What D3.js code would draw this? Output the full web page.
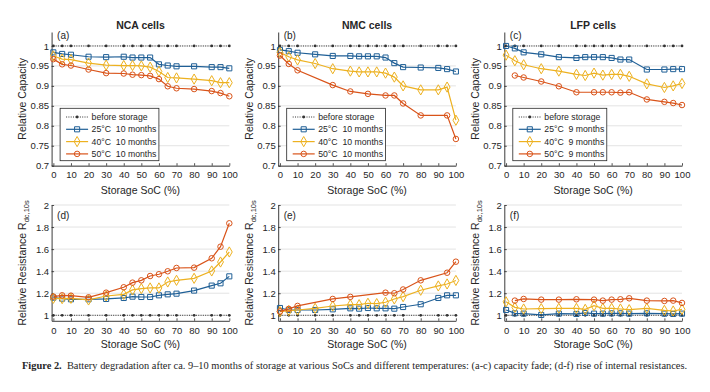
<!DOCTYPE html>
<html><head><meta charset="utf-8">
<script src="https://cdn.jsdelivr.net/npm/d3@7"></script>
<style>
body{margin:0;background:#fff;}
svg{display:block;}
text{font-family:"Liberation Sans",Arial,Helvetica,sans-serif;fill:#262626;}
</style></head>
<body>
<svg id="chart" width="710" height="392"></svg>
<script>
// ---------- data ----------
const soc = [0,5,10,20,30,40,45,50,55,60,65,70,80,90,95,100];
const socNMC50 = [0,5,10,30,40,50,60,65,70,80,95,100];
const socLFP50 = [5,10,20,30,40,50,55,60,65,70,80,90,95,100];
const socNMC50R = [0,5,10,30,40,60,65,70,80,95,100];

const cellTypes = ["NCA cells","NMC cells","LFP cells"];
const panelLabels = ["(a)","(b)","(c)","(d)","(e)","(f)"];
const seriesNames = ["25°C","40°C","50°C"];
const durations = ["10 months","10 months","9 months"];
const beforeName = "before storage";

const capTicks = [0.7,0.75,0.8,0.85,0.9,0.95,1];
const capTickLabels = ["0.7","0.75","0.8","0.85","0.9","0.95","1"];
const resTicks = [1,1.2,1.4,1.6,1.8,2];
const resTickLabels = ["1","1.2","1.4","1.6","1.8","2"];
const xTicks = [0,10,20,30,40,50,60,70,80,90,100];

// capacity
const nca25Cap = [0.984,0.980,0.978,0.973,0.972,0.973,0.971,0.971,0.971,0.954,0.951,0.949,0.949,0.947,0.947,0.944];
const nca40Cap = [0.975,0.967,0.966,0.957,0.952,0.951,0.951,0.950,0.947,0.936,0.921,0.920,0.917,0.913,0.908,0.908];
const nca50Cap = [0.967,0.954,0.951,0.941,0.932,0.931,0.928,0.927,0.925,0.917,0.899,0.894,0.892,0.887,0.882,0.874];
const nmc25Cap = [0.990,0.987,0.983,0.979,0.975,0.975,0.974,0.974,0.974,0.971,0.957,0.947,0.946,0.945,0.942,0.936];
const nmc40Cap = [0.984,0.973,0.965,0.956,0.943,0.937,0.935,0.935,0.935,0.932,0.922,0.900,0.890,0.890,0.897,0.814];
const nmc50Cap = [0.976,0.955,0.939,0.902,0.886,0.880,0.876,0.876,0.856,0.826,0.826,0.767];
const lfp25Cap = [1.000,0.994,0.984,0.979,0.972,0.970,0.972,0.972,0.972,0.970,0.966,0.966,0.941,0.941,0.942,0.942];
const lfp40Cap = [0.977,0.963,0.953,0.943,0.937,0.929,0.926,0.932,0.927,0.929,0.929,0.924,0.905,0.896,0.900,0.906];
const lfp50Cap = [0.926,0.921,0.911,0.899,0.884,0.884,0.884,0.884,0.883,0.884,0.866,0.860,0.857,0.852];
// resistance
const nca25Res = [1.160,1.151,1.145,1.145,1.148,1.157,1.169,1.166,1.166,1.181,1.190,1.196,1.224,1.269,1.290,1.353];
const nca40Res = [1.154,1.151,1.154,1.139,1.175,1.190,1.230,1.242,1.248,1.248,1.302,1.317,1.335,1.402,1.483,1.574];
const nca50Res = [1.169,1.181,1.178,1.163,1.205,1.254,1.296,1.317,1.356,1.372,1.399,1.429,1.432,1.517,1.622,1.834];
const nmc25Res = [1.066,1.048,1.048,1.048,1.054,1.063,1.060,1.066,1.063,1.063,1.060,1.075,1.100,1.157,1.181,1.181];
const nmc40Res = [1.033,1.042,1.048,1.063,1.084,1.096,1.096,1.109,1.106,1.118,1.148,1.169,1.227,1.266,1.284,1.316];
const nmc50Res = [1.035,1.058,1.085,1.148,1.167,1.205,1.200,1.234,1.317,1.386,1.486];
const lfp25Res = [1.048,1.018,1.015,1.003,1.015,1.012,1.021,1.015,1.015,1.018,1.018,1.015,1.018,1.015,1.012,1.015];
const lfp40Res = [1.122,1.072,1.057,1.060,1.063,1.063,1.054,1.087,1.063,1.063,1.057,1.051,1.063,1.045,1.039,1.054];
const lfp50Res = [1.133,1.148,1.142,1.142,1.145,1.142,1.133,1.142,1.145,1.154,1.133,1.130,1.133,1.112];
const beforeVal = soc.map(()=>1);

const caption1 = "Figure 2.";
const caption2 = "Battery degradation after ca. 9\u201310 months of storage at various SoCs and different temperatures: (a-c) capacity fade; (d-f) rise of internal resistances.";

// ---------- styles ----------
const colors = ["#1f5f96","#edb120","#d95319"];
const shapes = [d3.symbolSquare, d3.symbolDiamond, d3.symbolCircle];
const shapeSizes = [26, 30, 24];

const svg = d3.select("#chart");
const lefts = [51.6, 278.2, 504.3];
const plotW = 177.7;

const capData = [
  [[soc,nca25Cap],[soc,nca40Cap],[soc,nca50Cap]],
  [[soc,nmc25Cap],[soc,nmc40Cap],[socNMC50,nmc50Cap]],
  [[soc,lfp25Cap],[soc,lfp40Cap],[socLFP50,lfp50Cap]]
];
const resData = [
  [[soc,nca25Res],[soc,nca40Res],[soc,nca50Res]],
  [[soc,nmc25Res],[soc,nmc40Res],[socNMC50R,nmc50Res]],
  [[soc,lfp25Res],[soc,lfp40Res],[socLFP50,lfp50Res]]
];

function symbolPath(i){ return d3.symbol().type(shapes[i]).size(shapeSizes[i])(); }

function drawPanel(col,row){
  const left = lefts[col];
  const x = d3.scaleLinear().domain([-1,100]).range([left,left+plotW]);
  const top = row===0;
  const y = top ? d3.scaleLinear().domain([0.7,1.035]).range([165.7,32])
                : d3.scaleLinear().domain([0.95,2]).range([320.8,205]);
  const ticks = top ? capTicks : resTicks;
  const tlabels = top ? capTickLabels : resTickLabels;
  const g = svg.append("g");
  // grid
  g.selectAll("line.grid").data(ticks).join("line")
    .attr("x1",x(-1)).attr("x2",x(100)).attr("y1",d=>y(d)).attr("y2",d=>y(d))
    .attr("stroke","#e3e3e3").attr("stroke-width",1);
  // axes
  const xa = g.append("g").attr("transform",`translate(0,${y.range()[0]})`)
    .call(d3.axisBottom(x).tickValues(xTicks).tickSizeInner(-2.5).tickSizeOuter(0).tickPadding(6));
  const ya = g.append("g").attr("transform",`translate(${left},0)`)
    .call(d3.axisLeft(y).tickValues(ticks).tickFormat((d,i)=>tlabels[i]).tickSizeInner(-2.5).tickSizeOuter(0).tickPadding(2.5));
  [xa,ya].forEach(a=>{
    a.select(".domain").attr("stroke","#262626").attr("stroke-width",0.9);
    a.selectAll(".tick line").attr("stroke","#262626").attr("stroke-width",0.8);
    a.selectAll(".tick text").attr("font-size","9.5px").attr("fill","#262626")
      .attr("font-family","'Liberation Sans',Arial,sans-serif");
  });
  // axis titles
  g.append("text").attr("x",x(-1)+plotW/2).attr("y",top?194:348)
    .attr("text-anchor","middle").attr("font-size","10.5px").text("Storage SoC (%)");
  const yc = (y.range()[0]+y.range()[1])/2;
  const yt = g.append("text").attr("transform",`translate(${left-25.7},${yc}) rotate(-90)`)
    .attr("text-anchor","middle").attr("font-size","10.5px");
  if(top){ yt.text("Relative Capacity"); }
  else {
    yt.append("tspan").text("Relative Resistance R");
    yt.append("tspan").attr("font-size","7.5px").attr("dy","3").text("dc,10s");
  }
  // panel label
  g.append("text").attr("x",left+5.5).attr("y",top?39:218.5).attr("font-size","10px")
    .text(panelLabels[row*3+col]);
  if(top){
    g.append("text").attr("x",x(-1)+plotW/2).attr("y",29).attr("text-anchor","middle")
      .attr("font-size","10.5px").attr("font-weight","bold").text(cellTypes[col]);
  }
  // before storage line
  const line = d3.line().x(d=>x(d[0])).y(d=>y(d[1]));
  const bpts = soc.map((s,i)=>[s,beforeVal[i]]);
  g.append("path").attr("d",line(bpts)).attr("fill","none").attr("stroke","#333")
    .attr("stroke-width",1).attr("stroke-dasharray","1,1.3");
  g.selectAll("circle.bs").data(bpts).join("circle").attr("cx",d=>x(d[0])).attr("cy",d=>y(d[1]))
    .attr("r",1.4).attr("fill","#333");
  // series
  const data = top ? capData[col] : resData[col];
  data.forEach((sr,i)=>{
    const pts = sr[0].map((s,k)=>[s,sr[1][k]]);
    g.append("path").attr("d",line(pts)).attr("fill","none").attr("stroke",colors[i]).attr("stroke-width",1.2);
    g.selectAll("path.m"+i).data(pts).join("path")
      .attr("transform",d=>`translate(${x(d[0])},${y(d[1])})`)
      .attr("d",symbolPath(i)).attr("fill","none").attr("stroke",colors[i]).attr("stroke-width",1);
  });
  // legend
  if(top){
    const lx = left+8.5, ly = 108.3;
    const lg = g.append("g");
    const box = lg.append("rect").attr("x",lx).attr("y",ly).attr("height",52.4)
      .attr("fill","#fff").attr("stroke","#262626").attr("stroke-width",0.8);
    const rows = [beforeName].concat(seriesNames.map(n=>n+"\u00a0\u00a0"+durations[col]));
    let maxW = 0;
    rows.forEach((r,k)=>{
      const cy = ly+8.7+k*12.3;
      if(k===0){
        lg.append("line").attr("x1",lx+6).attr("x2",lx+28).attr("y1",cy).attr("y2",cy)
          .attr("stroke","#333").attr("stroke-width",1).attr("stroke-dasharray","1,1.3");
        lg.append("circle").attr("cx",lx+17).attr("cy",cy).attr("r",1.4).attr("fill","#333");
      } else {
        const i=k-1;
        lg.append("line").attr("x1",lx+6).attr("x2",lx+28).attr("y1",cy).attr("y2",cy)
          .attr("stroke",colors[i]).attr("stroke-width",1.2);
        lg.append("path").attr("transform",`translate(${lx+17},${cy})`).attr("d",symbolPath(i))
          .attr("fill","none").attr("stroke",colors[i]).attr("stroke-width",1);
      }
      const t = lg.append("text").attr("x",lx+31.5).attr("y",cy+3.1).attr("font-size","8.7px").text(r);
      maxW = Math.max(maxW, t.node().getComputedTextLength());
    });
    box.attr("width",31.5+maxW+2.5);
  }
}
for(let r=0;r<2;r++) for(let c=0;c<3;c++) drawPanel(c,r);

// caption
const cap = svg.append("text").attr("x",22).attr("y",369)
  .attr("font-family","'Liberation Serif','Times New Roman',serif").attr("font-size","9px").attr("fill","#111");
cap.append("tspan").attr("font-weight","bold").style("font-family","'Liberation Serif',serif").text(caption1);
cap.append("tspan").style("font-family","'Liberation Serif',serif").text("\u00a0\u00a0"+caption2);
const cw = cap.node().getComputedTextLength();
cap.attr("font-size",(9*666/cw).toFixed(2)+"px");
</script>
</body></html>
